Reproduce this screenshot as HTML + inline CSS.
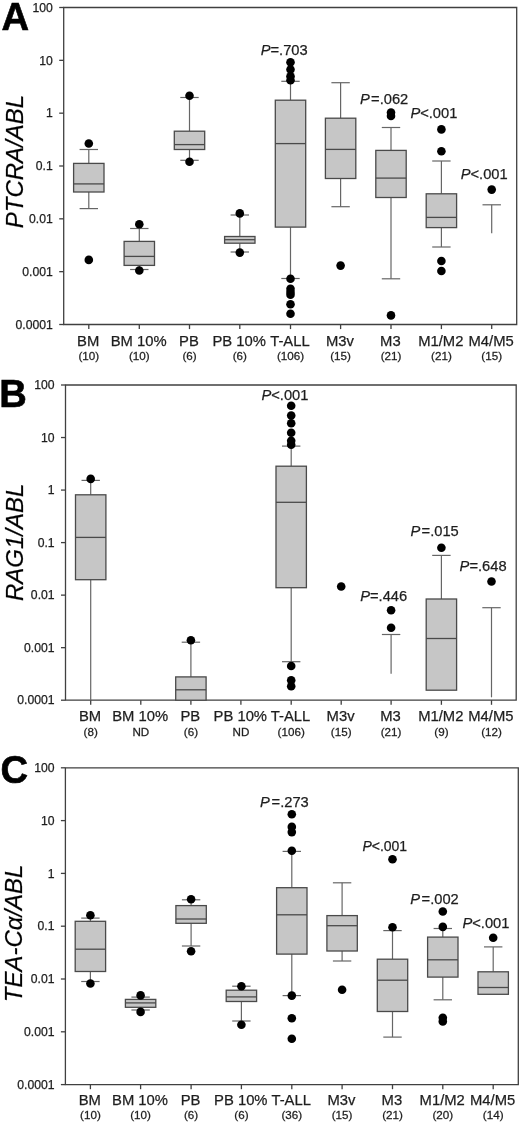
<!DOCTYPE html>
<html><head><meta charset="utf-8"><title>Box plots</title>
<style>
html,body{margin:0;padding:0;background:#fff;}
body{width:520px;height:1124px;overflow:hidden;}
svg{display:block;}
text{font-family:"Liberation Sans",Arial,Helvetica,sans-serif;fill:#1e1e1e;stroke:#1e1e1e;stroke-width:0.25;}
.ax{fill:none;stroke:#404040;stroke-width:1.3;}
.wh{fill:none;stroke:#666666;stroke-width:1.2;}
.md{fill:none;stroke:#4a4a4a;stroke-width:1.3;}
.bx{fill:#c6c6c6;stroke:#4a4a4a;stroke-width:1.3;}
circle{fill:#000;}
.yt{font-size:12.2px;text-anchor:end;}
.xl{font-size:14.8px;text-anchor:middle;}
.xc{font-size:11px;text-anchor:middle;}
.pv{font-size:14.7px;}
.it{font-style:italic;}
.pl{font-size:38.2px;font-weight:bold;fill:#000;stroke:#000;stroke-width:0.6;}
.yl{font-size:24px;font-style:italic;text-anchor:middle;fill:#000;}
</style></head>
<body>
<svg width="520" height="1124" viewBox="0 0 520 1124">
<path class="ax" d="M63.7 7.5H516.7V324.5H63.7Z"/>
<path class="ax" d="M59.2 7.5H63.7"/>
<text class="yt" x="52.8" y="11.7">100</text>
<path class="ax" d="M59.2 60.33H63.7"/>
<text class="yt" x="52.8" y="64.53">10</text>
<path class="ax" d="M59.2 113.17H63.7"/>
<text class="yt" x="52.8" y="117.37">1</text>
<path class="ax" d="M59.2 166H63.7"/>
<text class="yt" x="52.8" y="170.2">0.1</text>
<path class="ax" d="M59.2 218.83H63.7"/>
<text class="yt" x="52.8" y="223.03">0.01</text>
<path class="ax" d="M59.2 271.67H63.7"/>
<text class="yt" x="52.8" y="275.87">0.001</text>
<path class="ax" d="M59.2 324.5H63.7"/>
<text class="yt" x="52.8" y="328.7">0.0001</text>
<path class="ax" d="M88.8 324.5V329.1"/>
<text class="xl" x="88.2" y="345.7">BM</text>
<text class="xc" transform="translate(88.8 359.9) scale(1.06 1)">(10)</text>
<path class="ax" d="M139.3 324.5V329.1"/>
<text class="xl" x="138.7" y="345.7">BM 10%</text>
<text class="xc" transform="translate(139.3 359.9) scale(1.06 1)">(10)</text>
<path class="ax" d="M189.5 324.5V329.1"/>
<text class="xl" x="188.9" y="345.7">PB</text>
<text class="xc" transform="translate(189.5 359.9) scale(1.06 1)">(6)</text>
<path class="ax" d="M239.8 324.5V329.1"/>
<text class="xl" x="239.2" y="345.7">PB 10%</text>
<text class="xc" transform="translate(239.8 359.9) scale(1.06 1)">(6)</text>
<path class="ax" d="M290.5 324.5V329.1"/>
<text class="xl" x="289.9" y="345.7">T-ALL</text>
<text class="xc" transform="translate(290.5 359.9) scale(1.06 1)">(106)</text>
<path class="ax" d="M340.6 324.5V329.1"/>
<text class="xl" x="340" y="345.7">M3v</text>
<text class="xc" transform="translate(340.6 359.9) scale(1.06 1)">(15)</text>
<path class="ax" d="M391 324.5V329.1"/>
<text class="xl" x="390.4" y="345.7">M3</text>
<text class="xc" transform="translate(391 359.9) scale(1.06 1)">(21)</text>
<path class="ax" d="M441.4 324.5V329.1"/>
<text class="xl" x="440.8" y="345.7">M1/M2</text>
<text class="xc" transform="translate(441.4 359.9) scale(1.06 1)">(21)</text>
<path class="ax" d="M491.7 324.5V329.1"/>
<text class="xl" x="491.1" y="345.7">M4/M5</text>
<text class="xc" transform="translate(491.7 359.9) scale(1.06 1)">(15)</text>
<path class="wh" d="M88.8 149.5V163.4"/>
<path class="wh" d="M88.8 192V208.6"/>
<rect class="bx" x="73.6" y="163.4" width="30.4" height="28.6"/>
<path class="md" d="M73.6 183.9H104"/>
<path class="wh" d="M79.6 149.5H98"/>
<path class="wh" d="M79.6 208.6H98"/>
<circle cx="88.8" cy="143.5" r="4.3"/>
<circle cx="88.8" cy="259.9" r="4.3"/>
<path class="wh" d="M139.3 228.5V241.4"/>
<path class="wh" d="M139.3 265.4V269.5"/>
<rect class="bx" x="124.1" y="241.4" width="30.4" height="24"/>
<path class="md" d="M124.1 256.4H154.5"/>
<path class="wh" d="M130.1 228.5H148.5"/>
<path class="wh" d="M130.1 269.5H148.5"/>
<circle cx="139.3" cy="224.3" r="4.3"/>
<circle cx="139.3" cy="270.5" r="4.3"/>
<path class="wh" d="M189.5 97.5V131.2"/>
<path class="wh" d="M189.5 149.5V160.3"/>
<rect class="bx" x="174.3" y="131.2" width="30.4" height="18.3"/>
<path class="md" d="M174.3 144.6H204.7"/>
<path class="wh" d="M180.3 97.5H198.7"/>
<path class="wh" d="M180.3 160.3H198.7"/>
<circle cx="189.5" cy="95.7" r="4.3"/>
<circle cx="189.5" cy="161.7" r="4.3"/>
<path class="wh" d="M239.8 215V236.5"/>
<path class="wh" d="M239.8 243.2V252"/>
<rect class="bx" x="224.6" y="236.5" width="30.4" height="6.7"/>
<path class="md" d="M224.6 239.7H255"/>
<path class="wh" d="M230.6 215H249"/>
<path class="wh" d="M230.6 252H249"/>
<circle cx="239.8" cy="213.4" r="4.3"/>
<circle cx="239.8" cy="252.6" r="4.3"/>
<path class="wh" d="M290.5 81.3V100.2"/>
<path class="wh" d="M290.5 227.1V278.5"/>
<rect class="bx" x="275.3" y="100.2" width="30.4" height="126.9"/>
<path class="md" d="M275.3 143.6H305.7"/>
<path class="wh" d="M281.3 81.3H299.7"/>
<path class="wh" d="M281.3 278.5H299.7"/>
<circle cx="290.5" cy="62.3" r="4.3"/>
<circle cx="290.5" cy="69.5" r="4.3"/>
<circle cx="290.5" cy="76.3" r="4.3"/>
<circle cx="290.5" cy="80.3" r="4.3"/>
<circle cx="290.5" cy="278.7" r="4.3"/>
<circle cx="290.5" cy="288.8" r="4.3"/>
<circle cx="290.5" cy="292" r="4.3"/>
<circle cx="290.5" cy="294.8" r="4.3"/>
<circle cx="290.5" cy="304.2" r="4.3"/>
<circle cx="290.5" cy="313.7" r="4.3"/>
<path class="wh" d="M340.6 82.7V118.2"/>
<path class="wh" d="M340.6 178.5V206.7"/>
<rect class="bx" x="325.4" y="118.2" width="30.4" height="60.3"/>
<path class="md" d="M325.4 149.4H355.8"/>
<path class="wh" d="M331.4 82.7H349.8"/>
<path class="wh" d="M331.4 206.7H349.8"/>
<circle cx="340.6" cy="265.6" r="4.3"/>
<path class="wh" d="M391 127.5V150.4"/>
<path class="wh" d="M391 197.5V278.8"/>
<rect class="bx" x="375.8" y="150.4" width="30.4" height="47.1"/>
<path class="md" d="M375.8 178.1H406.2"/>
<path class="wh" d="M381.8 127.5H400.2"/>
<path class="wh" d="M381.8 278.8H400.2"/>
<circle cx="391" cy="112.6" r="4.3"/>
<circle cx="391" cy="116" r="4.3"/>
<circle cx="391" cy="315.4" r="4.3"/>
<path class="wh" d="M441.4 161V193.8"/>
<path class="wh" d="M441.4 227.6V247"/>
<rect class="bx" x="426.2" y="193.8" width="30.4" height="33.8"/>
<path class="md" d="M426.2 217.4H456.6"/>
<path class="wh" d="M432.2 161H450.6"/>
<path class="wh" d="M432.2 247H450.6"/>
<circle cx="441.4" cy="129.4" r="4.3"/>
<circle cx="441.4" cy="151.2" r="4.3"/>
<circle cx="441.4" cy="261" r="4.3"/>
<circle cx="441.4" cy="271" r="4.3"/>
<path class="wh" d="M491.7 204.8V233.3"/>
<path class="wh" d="M482.5 204.8H500.9"/>
<circle cx="491.7" cy="189.6" r="4.3"/>
<text class="pv" x="260.7" y="55.4"><tspan class="it">P</tspan><tspan>=.703</tspan></text>
<text class="pv" x="360" y="103.6"><tspan class="it">P</tspan><tspan dx="1.3">=.062</tspan></text>
<text class="pv" x="410.4" y="118.2"><tspan class="it">P</tspan><tspan>&lt;.001</tspan></text>
<text class="pv" x="460.7" y="179.4"><tspan class="it">P</tspan><tspan>&lt;.001</tspan></text>
<text class="pl" x="1.6" y="30">A</text>
<text class="yl" transform="translate(23.4 161.55) rotate(-90)" x="0" y="0">PTCRA/ABL</text>
<path class="ax" d="M65.5 385H516.2V700.2H65.5Z"/>
<path class="ax" d="M61 385H65.5"/>
<text class="yt" x="54.6" y="389.2">100</text>
<path class="ax" d="M61 437.53H65.5"/>
<text class="yt" x="54.6" y="441.73">10</text>
<path class="ax" d="M61 490.07H65.5"/>
<text class="yt" x="54.6" y="494.27">1</text>
<path class="ax" d="M61 542.6H65.5"/>
<text class="yt" x="54.6" y="546.8">0.1</text>
<path class="ax" d="M61 595.13H65.5"/>
<text class="yt" x="54.6" y="599.33">0.01</text>
<path class="ax" d="M61 647.67H65.5"/>
<text class="yt" x="54.6" y="651.87">0.001</text>
<path class="ax" d="M61 700.2H65.5"/>
<text class="yt" x="54.6" y="704.4">0.0001</text>
<path class="ax" d="M90.7 700.2V704.8"/>
<text class="xl" x="90.1" y="721.3">BM</text>
<text class="xc" transform="translate(90.7 736.1) scale(1.06 1)">(8)</text>
<path class="ax" d="M140.8 700.2V704.8"/>
<text class="xl" x="140.2" y="721.3">BM 10%</text>
<text class="xc" transform="translate(140.8 736.1) scale(1.06 1)">ND</text>
<path class="ax" d="M190.9 700.2V704.8"/>
<text class="xl" x="190.3" y="721.3">PB</text>
<text class="xc" transform="translate(190.9 736.1) scale(1.06 1)">(6)</text>
<path class="ax" d="M240.9 700.2V704.8"/>
<text class="xl" x="240.3" y="721.3">PB 10%</text>
<text class="xc" transform="translate(240.9 736.1) scale(1.06 1)">ND</text>
<path class="ax" d="M291.2 700.2V704.8"/>
<text class="xl" x="290.6" y="721.3">T-ALL</text>
<text class="xc" transform="translate(291.2 736.1) scale(1.06 1)">(106)</text>
<path class="ax" d="M341.2 700.2V704.8"/>
<text class="xl" x="340.6" y="721.3">M3v</text>
<text class="xc" transform="translate(341.2 736.1) scale(1.06 1)">(15)</text>
<path class="ax" d="M391.1 700.2V704.8"/>
<text class="xl" x="390.5" y="721.3">M3</text>
<text class="xc" transform="translate(391.1 736.1) scale(1.06 1)">(21)</text>
<path class="ax" d="M441.4 700.2V704.8"/>
<text class="xl" x="440.8" y="721.3">M1/M2</text>
<text class="xc" transform="translate(441.4 736.1) scale(1.06 1)">(9)</text>
<path class="ax" d="M491.5 700.2V704.8"/>
<text class="xl" x="490.9" y="721.3">M4/M5</text>
<text class="xc" transform="translate(491.5 736.1) scale(1.06 1)">(12)</text>
<path class="wh" d="M90.7 480.4V494.8"/>
<path class="wh" d="M90.7 579.7V700.2"/>
<rect class="bx" x="75.5" y="494.8" width="30.4" height="84.9"/>
<path class="md" d="M75.5 537.4H105.9"/>
<path class="wh" d="M81.5 480.4H99.9"/>
<circle cx="90.7" cy="478.9" r="4.3"/>
<path class="wh" d="M190.9 642.2V676.9"/>
<rect class="bx" x="175.7" y="676.9" width="30.4" height="23.3"/>
<path class="md" d="M175.7 689.8H206.1"/>
<path class="wh" d="M181.7 642.2H200.1"/>
<circle cx="190.9" cy="640.3" r="4.3"/>
<path class="wh" d="M291.2 446.1V466.2"/>
<path class="wh" d="M291.2 587.7V661.7"/>
<rect class="bx" x="276" y="466.2" width="30.4" height="121.5"/>
<path class="md" d="M276 502.3H306.4"/>
<path class="wh" d="M282 446.1H300.4"/>
<path class="wh" d="M282 661.7H300.4"/>
<circle cx="291.2" cy="405.8" r="4.3"/>
<circle cx="291.2" cy="415.5" r="4.3"/>
<circle cx="291.2" cy="423.3" r="4.3"/>
<circle cx="291.2" cy="432.7" r="4.3"/>
<circle cx="291.2" cy="440.8" r="4.3"/>
<circle cx="291.2" cy="444.8" r="4.3"/>
<circle cx="291.2" cy="666" r="4.3"/>
<circle cx="291.2" cy="680.3" r="4.3"/>
<circle cx="291.2" cy="686.3" r="4.3"/>
<circle cx="341.2" cy="586.5" r="4.3"/>
<path class="wh" d="M391.1 634.5V673.8"/>
<path class="wh" d="M381.9 634.5H400.3"/>
<circle cx="391.1" cy="610.2" r="4.3"/>
<circle cx="391.1" cy="627.7" r="4.3"/>
<path class="wh" d="M441.4 555.4V599"/>
<rect class="bx" x="426.2" y="599" width="30.4" height="91.2"/>
<path class="md" d="M426.2 638.5H456.6"/>
<path class="wh" d="M432.2 555.4H450.6"/>
<circle cx="441.4" cy="547.7" r="4.3"/>
<path class="wh" d="M491.5 607.7V697.3"/>
<path class="wh" d="M482.3 607.7H500.7"/>
<circle cx="491.5" cy="581.5" r="4.3"/>
<text class="pv" x="261.5" y="399.7"><tspan class="it">P</tspan><tspan>&lt;.001</tspan></text>
<text class="pv" x="360.2" y="600.5"><tspan class="it">P</tspan><tspan>=.446</tspan></text>
<text class="pv" x="410.5" y="535.8"><tspan class="it">P</tspan><tspan dx="1.3">=.015</tspan></text>
<text class="pv" x="459.6" y="570.9"><tspan class="it">P</tspan><tspan>=.648</tspan></text>
<text class="pl" x="-0.7" y="406.6">B</text>
<text class="yl" transform="translate(23.4 542.3) rotate(-90)" x="0" y="0">RAG1/ABL</text>
<path class="ax" d="M65.4 767.8H518.3V1084.6H65.4Z"/>
<path class="ax" d="M60.9 767.8H65.4"/>
<text class="yt" x="54.5" y="772">100</text>
<path class="ax" d="M60.9 820.6H65.4"/>
<text class="yt" x="54.5" y="824.8">10</text>
<path class="ax" d="M60.9 873.4H65.4"/>
<text class="yt" x="54.5" y="877.6">1</text>
<path class="ax" d="M60.9 926.2H65.4"/>
<text class="yt" x="54.5" y="930.4">0.1</text>
<path class="ax" d="M60.9 979H65.4"/>
<text class="yt" x="54.5" y="983.2">0.01</text>
<path class="ax" d="M60.9 1031.8H65.4"/>
<text class="yt" x="54.5" y="1036">0.001</text>
<path class="ax" d="M60.9 1084.6H65.4"/>
<text class="yt" x="54.5" y="1088.8">0.0001</text>
<path class="ax" d="M90.4 1084.6V1089.2"/>
<text class="xl" x="89.8" y="1105">BM</text>
<text class="xc" transform="translate(90.4 1119.1) scale(1.06 1)">(10)</text>
<path class="ax" d="M140.6 1084.6V1089.2"/>
<text class="xl" x="140" y="1105">BM 10%</text>
<text class="xc" transform="translate(140.6 1119.1) scale(1.06 1)">(10)</text>
<path class="ax" d="M191.1 1084.6V1089.2"/>
<text class="xl" x="190.5" y="1105">PB</text>
<text class="xc" transform="translate(191.1 1119.1) scale(1.06 1)">(6)</text>
<path class="ax" d="M241.4 1084.6V1089.2"/>
<text class="xl" x="240.8" y="1105">PB 10%</text>
<text class="xc" transform="translate(241.4 1119.1) scale(1.06 1)">(6)</text>
<path class="ax" d="M291.8 1084.6V1089.2"/>
<text class="xl" x="291.2" y="1105">T-ALL</text>
<text class="xc" transform="translate(291.8 1119.1) scale(1.06 1)">(36)</text>
<path class="ax" d="M342.1 1084.6V1089.2"/>
<text class="xl" x="341.5" y="1105">M3v</text>
<text class="xc" transform="translate(342.1 1119.1) scale(1.06 1)">(15)</text>
<path class="ax" d="M392.5 1084.6V1089.2"/>
<text class="xl" x="391.9" y="1105">M3</text>
<text class="xc" transform="translate(392.5 1119.1) scale(1.06 1)">(21)</text>
<path class="ax" d="M442.8 1084.6V1089.2"/>
<text class="xl" x="442.2" y="1105">M1/M2</text>
<text class="xc" transform="translate(442.8 1119.1) scale(1.06 1)">(20)</text>
<path class="ax" d="M493.2 1084.6V1089.2"/>
<text class="xl" x="492.6" y="1105">M4/M5</text>
<text class="xc" transform="translate(493.2 1119.1) scale(1.06 1)">(14)</text>
<path class="wh" d="M90.4 918.1V921.3"/>
<path class="wh" d="M90.4 971.5V981.5"/>
<rect class="bx" x="75.2" y="921.3" width="30.4" height="50.2"/>
<path class="md" d="M75.2 949.2H105.6"/>
<path class="wh" d="M81.2 918.1H99.6"/>
<path class="wh" d="M81.2 981.5H99.6"/>
<circle cx="90.4" cy="915.2" r="4.3"/>
<circle cx="90.4" cy="983.5" r="4.3"/>
<path class="wh" d="M140.6 997.1V999.4"/>
<path class="wh" d="M140.6 1007.3V1010"/>
<rect class="bx" x="125.4" y="999.4" width="30.4" height="7.9"/>
<path class="md" d="M125.4 1002.9H155.8"/>
<path class="wh" d="M131.4 997.1H149.8"/>
<path class="wh" d="M131.4 1010H149.8"/>
<circle cx="140.6" cy="995.4" r="4.3"/>
<circle cx="140.6" cy="1011.9" r="4.3"/>
<path class="wh" d="M191.1 899.8V905.6"/>
<path class="wh" d="M191.1 923.3V946"/>
<rect class="bx" x="175.9" y="905.6" width="30.4" height="17.7"/>
<path class="md" d="M175.9 919H206.3"/>
<path class="wh" d="M181.9 899.8H200.3"/>
<path class="wh" d="M181.9 946H200.3"/>
<circle cx="191.1" cy="899.2" r="4.3"/>
<circle cx="191.1" cy="951.2" r="4.3"/>
<path class="wh" d="M241.4 986.2V990.2"/>
<path class="wh" d="M241.4 1001.5V1021"/>
<rect class="bx" x="226.2" y="990.2" width="30.4" height="11.3"/>
<path class="md" d="M226.2 996.9H256.6"/>
<path class="wh" d="M232.2 986.2H250.6"/>
<path class="wh" d="M232.2 1021H250.6"/>
<circle cx="241.4" cy="986.2" r="4.3"/>
<circle cx="241.4" cy="1024.8" r="4.3"/>
<path class="wh" d="M291.8 851.4V887.7"/>
<path class="wh" d="M291.8 954.1V995.6"/>
<rect class="bx" x="276.6" y="887.7" width="30.4" height="66.4"/>
<path class="md" d="M276.6 914.8H307"/>
<path class="wh" d="M282.6 851.4H301"/>
<path class="wh" d="M282.6 995.6H301"/>
<circle cx="291.8" cy="814.2" r="4.3"/>
<circle cx="291.8" cy="826.9" r="4.3"/>
<circle cx="291.8" cy="832.1" r="4.3"/>
<circle cx="291.8" cy="850.8" r="4.3"/>
<circle cx="291.8" cy="995.6" r="4.3"/>
<circle cx="291.8" cy="1018.3" r="4.3"/>
<circle cx="291.8" cy="1038.7" r="4.3"/>
<path class="wh" d="M342.1 882.8V915.6"/>
<path class="wh" d="M342.1 951V961"/>
<rect class="bx" x="326.9" y="915.6" width="30.4" height="35.4"/>
<path class="md" d="M326.9 925.7H357.3"/>
<path class="wh" d="M332.9 882.8H351.3"/>
<path class="wh" d="M332.9 961H351.3"/>
<circle cx="342.1" cy="989.7" r="4.3"/>
<path class="wh" d="M392.5 930.6V959.2"/>
<path class="wh" d="M392.5 1011.5V1037.1"/>
<rect class="bx" x="377.3" y="959.2" width="30.4" height="52.3"/>
<path class="md" d="M377.3 980.2H407.7"/>
<path class="wh" d="M383.3 930.6H401.7"/>
<path class="wh" d="M383.3 1037.1H401.7"/>
<circle cx="392.5" cy="859.2" r="4.3"/>
<circle cx="392.5" cy="927.2" r="4.3"/>
<path class="wh" d="M442.8 928.5V937.1"/>
<path class="wh" d="M442.8 977.1V999.8"/>
<rect class="bx" x="427.6" y="937.1" width="30.4" height="40"/>
<path class="md" d="M427.6 959.8H458"/>
<path class="wh" d="M433.6 928.5H452"/>
<path class="wh" d="M433.6 999.8H452"/>
<circle cx="442.8" cy="911.5" r="4.3"/>
<circle cx="442.8" cy="926.9" r="4.3"/>
<circle cx="442.8" cy="1017.7" r="4.3"/>
<circle cx="442.8" cy="1021.4" r="4.3"/>
<path class="wh" d="M493.2 946.9V971.8"/>
<rect class="bx" x="478" y="971.8" width="30.4" height="22.5"/>
<path class="md" d="M478 987.5H508.4"/>
<path class="wh" d="M484 946.9H502.4"/>
<circle cx="493.2" cy="937.7" r="4.3"/>
<text class="pv" x="259.9" y="806.9"><tspan class="it">P</tspan><tspan dx="1.9">=.273</tspan></text>
<text class="pv" x="362.4" y="851.3" style="font-size:14px"><tspan class="it">P</tspan><tspan>&lt;.001</tspan></text>
<text class="pv" x="410.2" y="903.6"><tspan class="it">P</tspan><tspan dx="1.6">=.002</tspan></text>
<text class="pv" x="462.5" y="927.8"><tspan class="it">P</tspan><tspan>&lt;.001</tspan></text>
<text class="pl" x="0.6" y="782.6">C</text>
<text class="yl" transform="translate(21.8 933.4) rotate(-90)" x="0" y="0">TEA-Cα/ABL</text>
</svg>
</body></html>
